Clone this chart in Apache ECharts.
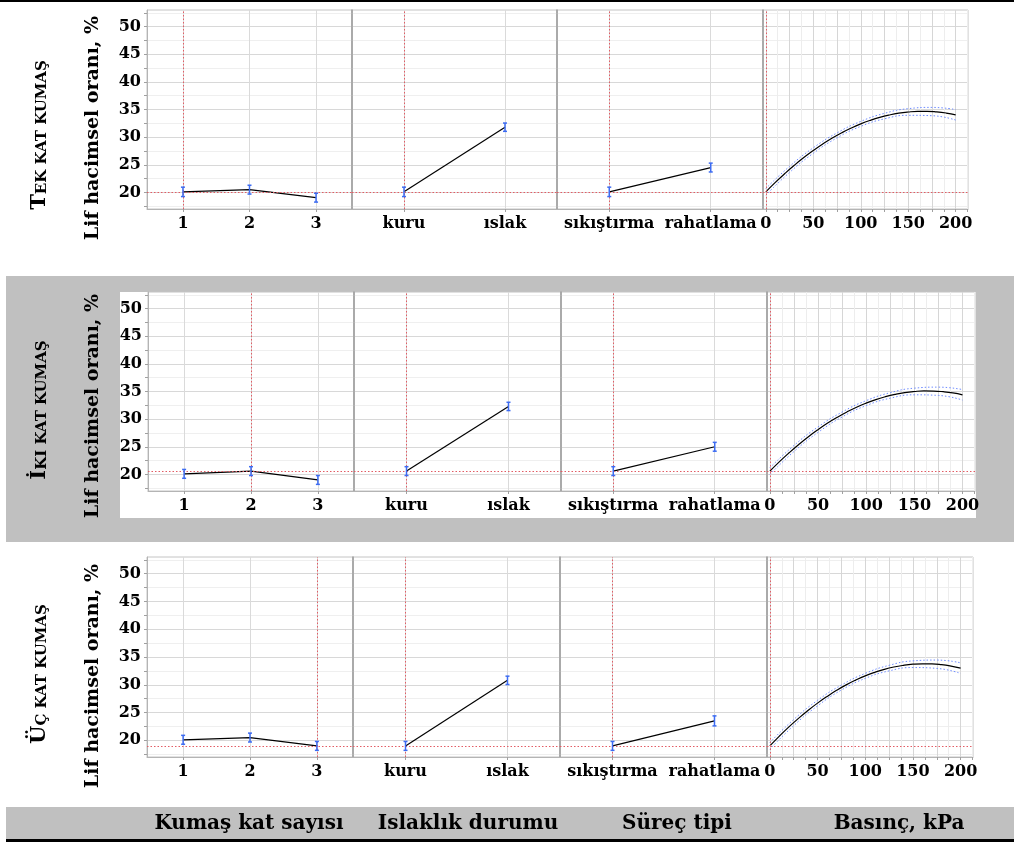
<!DOCTYPE html>
<html>
<head>
<meta charset="utf-8">
<script src="https://cdn.jsdelivr.net/npm/echarts@6/dist/echarts.min.js"></script>
<style>
  html, body { margin: 0; padding: 0; background: #ffffff; }
  #chart { width: 1014px; height: 843px; }
</style>
</head>
<body>
<div id="chart"></div>
<script>
// ---- factor levels and tick labels ----
const layerLabels = ['1', '2', '3'];
const wetLabels = ['kuru', 'ıslak'];
const processLabels = ['sıkıştırma', 'rahatlama'];
const pressureLabels = [0, 50, 100, 150, 200];
const yLabels = [20, 25, 30, 35, 40, 45, 50];
const factorTitles = ['Kumaş kat sayısı', 'Islaklık durumu', 'Süreç tipi', 'Basınç, kPa'];
const rowTitleLead = ['T', 'İ', 'Ü'];
const rowTitleRest = ['EK KAT KUMAŞ', 'KI KAT KUMAŞ', 'Ç KAT KUMAŞ'];
const yTitle = 'Lif hacimsel oranı, %';

// pressure levels (kPa) of the profile curve and of its confidence band
const pressureKPa = [0, 10, 20, 30, 40, 50, 60, 70, 80, 90, 100, 110, 120, 130, 140, 150, 160, 170, 180, 190, 200];
const bandKPa = [0, 25, 50, 75, 100, 125, 150, 175, 200];

// ---- tek kat kumaş ----
const tekSetting = 1;
const tekLayer = [20.1, 20.5, 19.05];
const tekLayerErr = [0.85, 0.8, 0.8];
const tekWet = [20.1, 31.8];
const tekWetErr = [0.85, 0.75];
const tekProcess = [20.1, 24.5];
const tekProcessErr = [0.85, 0.8];
const tekPressure = [20.10, 21.81, 23.41, 24.91, 26.30, 27.58, 28.76, 29.83, 30.79, 31.65, 32.40, 33.04, 33.58, 34.01, 34.34, 34.55, 34.66, 34.67, 34.57, 34.36, 34.04];
const tekUpper = [20.70, 24.72, 28.08, 30.77, 32.85, 34.31, 35.15, 35.38, 34.99];
const tekLower = [19.50, 23.62, 27.08, 29.87, 31.95, 33.31, 33.95, 33.88, 33.09];

// ---- iki kat kumaş ----
const ikiSetting = 2;
const ikiLayer = [20.1, 20.6, 19.0];
const ikiLayerErr = [0.8, 0.8, 0.8];
const ikiWet = [20.6, 32.3];
const ikiWetErr = [0.8, 0.75];
const ikiProcess = [20.6, 25.0];
const ikiProcessErr = [0.8, 0.8];
const ikiPressure = [20.60, 22.32, 23.92, 25.42, 26.82, 28.10, 29.28, 30.34, 31.30, 32.16, 32.90, 33.54, 34.06, 34.48, 34.80, 35.00, 35.10, 35.08, 34.96, 34.74, 34.40];
const ikiUpper = [21.20, 25.24, 28.60, 31.29, 33.35, 34.79, 35.60, 35.79, 35.35];
const ikiLower = [20.00, 24.14, 27.60, 30.39, 32.45, 33.79, 34.40, 34.29, 33.45];

// ---- üç kat kumaş ----
const ucSetting = 3;
const ucLayer = [20.1, 20.5, 19.0];
const ucLayerErr = [0.8, 0.8, 0.8];
const ucWet = [19.0, 30.8];
const ucWetErr = [0.8, 0.75];
const ucProcess = [19.0, 23.5];
const ucProcessErr = [0.8, 0.9];
const ucPressure = [19.00, 20.76, 22.42, 23.96, 25.38, 26.70, 27.90, 29.00, 29.98, 30.84, 31.60, 32.24, 32.78, 33.20, 33.50, 33.70, 33.78, 33.76, 33.62, 33.36, 33.00];
const ucUpper = [19.60, 23.75, 27.20, 29.95, 32.05, 33.50, 34.30, 34.45, 33.95];
const ucLower = [18.40, 22.65, 26.20, 29.05, 31.15, 32.50, 33.10, 32.95, 32.05];

const rowsData = [
  { setting: tekSetting, layer: tekLayer, layerErr: tekLayerErr, wet: tekWet, wetErr: tekWetErr,
    proc: tekProcess, procErr: tekProcessErr, curve: tekPressure, upper: tekUpper, lower: tekLower },
  { setting: ikiSetting, layer: ikiLayer, layerErr: ikiLayerErr, wet: ikiWet, wetErr: ikiWetErr,
    proc: ikiProcess, procErr: ikiProcessErr, curve: ikiPressure, upper: ikiUpper, lower: ikiLower },
  { setting: ucSetting, layer: ucLayer, layerErr: ucLayerErr, wet: ucWet, wetErr: ucWetErr,
    proc: ucProcess, procErr: ucProcessErr, curve: ucPressure, upper: ucUpper, lower: ucLower }
];

// ---- layout ----
const FONT = '"DejaVu Serif", serif';
const rowLayout = [
  { top: 10,  height: 199, edges: [147, 352, 557, 763, 968], yTitleY: 128, rowTitleY: 135 },
  { top: 292, height: 199, edges: [148, 354, 561, 767, 975], yTitleY: 406, rowTitleY: 410 },
  { top: 557, height: 200, edges: [147, 353, 560, 767, 973], yTitleY: 676, rowTitleY: 674 }
];
const xRanges = [[0.46, 3.54], [-0.515, 1.515], [-0.515, 1.515], [-3, 213]];

// gridline positions: y every 2.5 (major at multiples of 5), pressure every 12.5 (major every 25)
const yGridValues = [];
for (let v = 17.5; v <= 52.5; v += 2.5) yGridValues.push(v);
const pGridValues = [];
for (let v = 0; v <= 212.5; v += 12.5) pGridValues.push(v);

const tickLabelStyle = { fontFamily: FONT, fontWeight: 'bold', fontSize: 16, color: '#000' };
const RED = '#e25c64';

const grids = [], xAxes = [], yAxes = [], series = [];

function errorBarSeries(gi, data) {
  return {
    type: 'custom', xAxisIndex: gi, yAxisIndex: gi, z: 5, silent: true,
    data: data,
    renderItem: function (params, api) {
      const x = api.value(0), lo = api.value(1), hi = api.value(2);
      const a = api.coord([x, lo]), b = api.coord([x, hi]);
      const w = 2;
      const st = { stroke: '#3d6cf2', lineWidth: 1.5 };
      return {
        type: 'group',
        children: [
          { type: 'line', shape: { x1: a[0], y1: a[1], x2: b[0], y2: b[1] }, style: st },
          { type: 'line', shape: { x1: a[0] - w, y1: a[1], x2: a[0] + w, y2: a[1] }, style: st },
          { type: 'line', shape: { x1: b[0] - w, y1: b[1], x2: b[0] + w, y2: b[1] }, style: st }
        ]
      };
    }
  };
}

// red dotted cross-hair at the current factor setting and predicted value
function currentSettingSeries(gi, base, xCur) {
  const ls = { color: RED, type: [1.5, 2], width: 1 };
  return {
    type: 'line', xAxisIndex: gi, yAxisIndex: gi, z: 3, silent: true,
    color: RED, data: [], symbol: 'none',
    markLine: {
      silent: true, symbol: ['none', 'none'], animation: false,
      label: { show: false },
      lineStyle: ls,
      emphasis: { disabled: true },
      data: [
        { yAxis: base, lineStyle: ls },
        { xAxis: xCur, lineStyle: ls }
      ]
    }
  };
}

rowsData.forEach(function (rd, r) {
  const L = rowLayout[r];
  const base = rd.layer[rd.setting - 1];
  for (let c = 0; c < 4; c++) {
    const gi = r * 4 + c;
    grids.push({
      left: L.edges[c], top: L.top, width: L.edges[c + 1] - L.edges[c], height: L.height,
      show: true, borderColor: '#c4c4c4', borderWidth: 1, backgroundColor: 'transparent'
    });

    // vertical axis
    yAxes.push({
      type: 'value', gridIndex: gi, min: 17, max: 53,
      axisLine: { show: true, onZero: false, lineStyle: { color: c === 0 ? '#b4b4b4' : '#9c9c9c', width: c === 0 ? 1 : 1.5 } },
      axisTick: { show: c === 0, inside: false, length: 3, lineStyle: { color: '#a0a0a0' }, customValues: yGridValues },
      axisLabel: Object.assign({ show: c === 0, customValues: yLabels, margin: 6 }, tickLabelStyle),
      splitLine: { show: true, lineStyle: { color: ['#efefef', '#d8d8d8'], width: 1 } }
    });

    // horizontal axis
    let xTicks, xLabelVals, fmt, splitColor;
    if (c === 0) {
      xTicks = [1, 2, 3]; xLabelVals = [1, 2, 3];
      fmt = function (v) { return layerLabels[Math.round(v) - 1]; };
      splitColor = ['#dadada'];
    } else if (c === 1) {
      xTicks = [0, 1]; xLabelVals = [0, 1];
      fmt = function (v) { return wetLabels[Math.round(v)]; };
      splitColor = ['#dadada'];
    } else if (c === 2) {
      xTicks = [0, 1]; xLabelVals = [0, 1];
      fmt = function (v) { return processLabels[Math.round(v)]; };
      splitColor = ['#dadada'];
    } else {
      xTicks = pGridValues; xLabelVals = pressureLabels;
      fmt = function (v) { return String(v); };
      splitColor = ['#d6d6d6', '#ededed'];
    }
    xAxes.push({
      type: 'value', gridIndex: gi, min: xRanges[c][0], max: xRanges[c][1],
      axisLine: { show: true, onZero: false, lineStyle: { color: '#b4b4b4', width: 1 } },
      axisTick: { show: true, inside: false, length: 3, lineStyle: { color: '#a0a0a0' }, customValues: xTicks },
      axisLabel: Object.assign({ show: true, customValues: xLabelVals, margin: 7, formatter: fmt }, tickLabelStyle),
      splitLine: { show: true, lineStyle: { color: splitColor, width: 1 } }
    });

    // profile traces
    if (c < 3) {
      let vals, errs, xs, xCur;
      if (c === 0) { vals = rd.layer; errs = rd.layerErr; xs = [1, 2, 3]; xCur = rd.setting; }
      else if (c === 1) { vals = rd.wet; errs = rd.wetErr; xs = [0, 1]; xCur = 0; }
      else { vals = rd.proc; errs = rd.procErr; xs = [0, 1]; xCur = 0; }
      series.push(currentSettingSeries(gi, base, xCur));
      series.push({
        type: 'line', xAxisIndex: gi, yAxisIndex: gi, z: 4,
        symbol: 'none', showSymbol: false, silent: true, color: '#000',
        lineStyle: { color: '#000', width: 1.2 },
        data: vals.map(function (v, i) { return [xs[i], v]; })
      });
      series.push(errorBarSeries(gi, vals.map(function (v, i) { return [xs[i], v - errs[i], v + errs[i]]; })));
    } else {
      const dotted = { color: '#6f8cff', type: [1.5, 2], width: 1 };
      series.push(currentSettingSeries(gi, base, 0));
      series.push({
        type: 'line', xAxisIndex: gi, yAxisIndex: gi, z: 3, smooth: true,
        symbol: 'none', silent: true, color: '#6f8cff', lineStyle: dotted,
        data: bandKPa.map(function (p, i) { return [p, rd.upper[i]]; })
      });
      series.push({
        type: 'line', xAxisIndex: gi, yAxisIndex: gi, z: 3, smooth: true,
        symbol: 'none', silent: true, color: '#6f8cff', lineStyle: dotted,
        data: bandKPa.map(function (p, i) { return [p, rd.lower[i]]; })
      });
      series.push({
        type: 'line', xAxisIndex: gi, yAxisIndex: gi, z: 4, smooth: true,
        symbol: 'none', silent: true, color: '#000',
        lineStyle: { color: '#000', width: 1.2 },
        data: pressureKPa.map(function (p, i) { return [p, rd.curve[i]]; })
      });
    }
  }
});

// ---- frame, bands and titles ----
const graphics = [
  { type: 'rect', z: -10, shape: { x: 0, y: 0, width: 1014, height: 2 }, style: { fill: '#000' } },
  { type: 'rect', z: -10, shape: { x: 6, y: 276, width: 1008, height: 266 }, style: { fill: '#c0c0c0' } },
  { type: 'rect', z: -9, shape: { x: 120, y: 292, width: 856, height: 226 }, style: { fill: '#ffffff' } },
  { type: 'rect', z: -10, shape: { x: 6, y: 807, width: 1008, height: 32 }, style: { fill: '#c0c0c0' } },
  { type: 'rect', z: -10, shape: { x: 6, y: 839, width: 1008, height: 3 }, style: { fill: '#000' } }
];
rowLayout.forEach(function (L, r) {
  graphics.push({
    type: 'text', z: 100, x: 93, y: L.yTitleY, rotation: Math.PI / 2,
    style: {
      text: yTitle, fill: '#000', align: 'center', verticalAlign: 'middle',
      font: 'bold 19px ' + FONT
    }
  });
  graphics.push({
    type: 'text', z: 100, x: 38, y: L.rowTitleY, rotation: Math.PI / 2,
    style: {
      text: '{a|' + rowTitleLead[r] + '}{b|' + rowTitleRest[r] + '}',
      fill: '#000', align: 'center', verticalAlign: 'middle',
      rich: {
        a: { fontFamily: FONT, fontWeight: 'bold', fontSize: 21, verticalAlign: 'bottom', lineHeight: 24 },
        b: { fontFamily: FONT, fontWeight: 'bold', fontSize: 15, verticalAlign: 'bottom', lineHeight: 21 }
      }
    }
  });
});
const factorTitleX = [249, 468, 677, 899];
factorTitles.forEach(function (t, i) {
  graphics.push({
    type: 'text', z: 100, x: factorTitleX[i], y: 824,
    style: { text: t, fill: '#000', align: 'center', verticalAlign: 'middle', font: 'bold 20px ' + FONT }
  });
});

const chart = echarts.init(document.getElementById('chart'), null, { renderer: 'canvas' });
chart.setOption({
  animation: false,
  backgroundColor: '#ffffff',
  grid: grids,
  xAxis: xAxes,
  yAxis: yAxes,
  series: series,
  graphic: { elements: graphics }
});
</script>
</body>
</html>
